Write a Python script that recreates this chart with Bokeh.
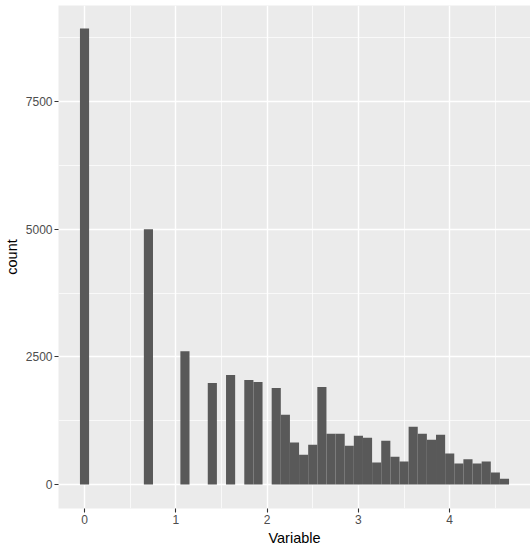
from bokeh.plotting import figure
from bokeh.models import Range1d, FixedTicker
from bokeh.embed import file_html
from bokeh.resources import INLINE

# Histogram bins (centre of each non-empty bin, binwidth 0.1) and their counts
bin_centers = [0.0, 0.7, 1.1, 1.4, 1.6, 1.8, 1.9, 2.1, 2.2, 2.3, 2.4, 2.5, 2.6, 2.7, 2.8,
               2.9, 3.0, 3.1, 3.2, 3.3, 3.4, 3.5, 3.6, 3.7, 3.8, 3.9, 4.0, 4.1, 4.2, 4.3,
               4.4, 4.5, 4.6]
counts = [8930, 5000, 2610, 1990, 2145, 2045, 2005, 1890, 1365, 820, 585, 780, 1910, 995,
          995, 760, 955, 915, 430, 855, 545, 450, 1130, 995, 875, 975, 605, 410, 495, 410,
          450, 235, 115]
binwidth = 0.1
x_ticks = [0, 1, 2, 3, 4]
x_minor = [0.5, 1.5, 2.5, 3.5, 4.5]
y_ticks = [0, 2500, 5000, 7500]
y_minor = [1250, 3750, 6250, 8750]

p = figure(width=530, height=549, output_backend="svg", toolbar_location=None,
           x_range=Range1d(-0.285, 4.885), y_range=Range1d(-470, 9380),
           min_border_left=50, min_border_right=0, min_border_top=5, min_border_bottom=41)

p.vbar(x=bin_centers, top=counts, bottom=0, width=binwidth,
       fill_color="#595959", line_color=None)

p.background_fill_color = "#EBEBEB"
p.border_fill_color = "white"
p.outline_line_color = None

p.xaxis.ticker = FixedTicker(ticks=x_ticks, minor_ticks=x_minor)
p.yaxis.ticker = FixedTicker(ticks=y_ticks, minor_ticks=y_minor)

for g in (p.xgrid, p.ygrid):
    g.grid_line_color = "white"
    g.grid_line_width = 1.4
    g.minor_grid_line_color = "white"
    g.minor_grid_line_width = 0.7

for ax in (p.xaxis, p.yaxis):
    ax.axis_line_color = None
    ax.major_tick_line_color = "#333333"
    ax.major_tick_line_width = 1.1
    ax.major_tick_in = 0
    ax.major_tick_out = 4
    ax.minor_tick_line_color = None
    ax.major_label_text_font = "Liberation Sans"
    ax.major_label_text_font_size = "12px"
    ax.major_label_text_color = "#4D4D4D"
    ax.major_label_standoff = 2
    ax.axis_label_text_font = "Liberation Sans"
    ax.axis_label_text_font_size = "14.5px"
    ax.axis_label_text_font_style = "normal"
    ax.axis_label_text_color = "black"
    ax.axis_label_standoff = 3

p.xaxis.axis_label = "Variable"
p.yaxis.axis_label = "count"

open("out.html", "w").write(file_html(p, INLINE))
